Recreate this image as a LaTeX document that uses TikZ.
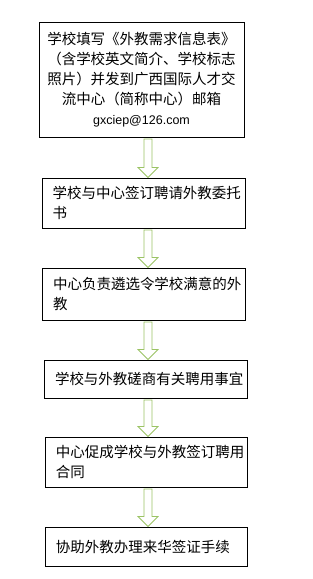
\documentclass[tikz,border=0pt]{standalone}
\usepackage{fontspec}
\setmainfont{Noto Sans CJK SC}
\newfontfamily\latfont{Liberation Sans}
\usetikzlibrary{calc}
\definecolor{arrgreen}{RGB}{155,195,100}
\tikzset{
  stepbox/.style={draw=black, line width=0.9pt, fill=white, inner sep=0pt, font=\fontsize{14.5}{20}\selectfont},
  leftbox/.style={stepbox, align=left},
  blockarr/.style={draw=arrgreen, line width=0.8pt, fill=white, line join=miter}
}
\newcommand{\blockarrow}[2]{%
  \draw[blockarr] let \p1=(#1.south), \p2=(#2.north) in
    (144pt,\y1-1.5pt) -- (152pt,\y1-1.5pt) -- (152pt,\y2+10pt) -- (158pt,\y2+10pt)
    -- (148pt,\y2) -- (138pt,\y2+10pt) -- (144pt,\y2+10pt) -- cycle;}
\begin{document}
\begin{tikzpicture}[x=1pt,y=-1pt]
\useasboundingbox (0,0) rectangle (313,579);
\node[stepbox, minimum width=205pt, minimum height=115pt, align=center] (b1) at (141.5,79.5)
  {学校填写《外教需求信息表》\\（含学校英文简介、学校标志\\照片）并发到广西国际人才交\\流中心（简称中心）邮箱\\{\latfont\fontsize{12.5}{20}\selectfont gxciep@126.com}};
\node[leftbox, minimum width=203pt, minimum height=50pt, text width=182pt] (b2) at (143.5,203)
  {学校与中心签订聘请外教委托\\书};
\node[leftbox, minimum width=203pt, minimum height=52pt, text width=181pt] (b3) at (143.5,294)
  {中心负责遴选令学校满意的外\\教};
\node[leftbox, minimum width=203pt, minimum height=38pt, text width=181pt] (b4) at (145.5,379)
  {学校与外教磋商有关聘用事宜};
\node[leftbox, minimum width=202pt, minimum height=50pt, text width=180pt] (b5) at (146,462)
  {中心促成学校与外教签订聘用\\合同};
\node[leftbox, minimum width=202pt, minimum height=39pt, text width=180pt] (b6) at (146,546.5)
  {协助外教办理来华签证手续};
\blockarrow{b1}{b2}
\blockarrow{b2}{b3}
\blockarrow{b3}{b4}
\blockarrow{b4}{b5}
\blockarrow{b5}{b6}
\end{tikzpicture}
\end{document}
